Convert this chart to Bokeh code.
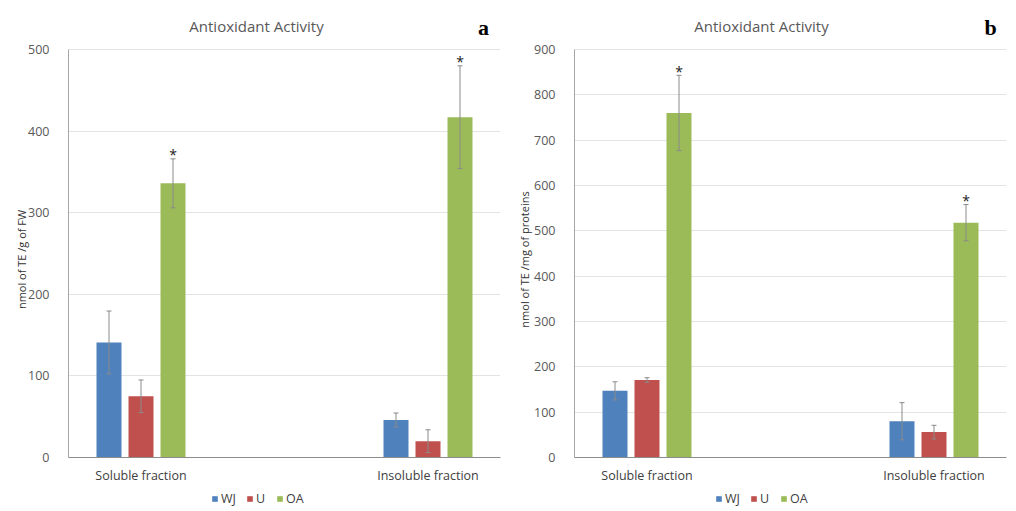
from bokeh.plotting import figure
from bokeh.models import (Range1d, FixedTicker, Whisker, TeeHead, ColumnDataSource,
                          Label, Legend, LegendItem, Grid)
from bokeh.layouts import row
from bokeh.embed import file_html
from bokeh.resources import INLINE
from bokeh.core.properties import value

# ---------------- data ----------------
categories = ["Soluble fraction", "Insoluble fraction"]
series = ["WJ", "U", "OA"]
colors = ["#4F81BD", "#C0504D", "#9BBB59"]

# panel a: nmol of TE / g of FW
a_wj = [141, 46]
a_wj_err = [38.5, 8.5]
a_u = [75, 20]
a_u_err = [20, 14]
a_oa = [336, 417]
a_oa_err = [30, 63]

# panel b: nmol of TE / mg of proteins
b_wj = [147, 80]
b_wj_err = [20, 41]
b_u = [171, 56]
b_u_err = [5, 15]
b_oa = [760, 518]
b_oa_err = [83, 40]

a_ticks = [0, 100, 200, 300, 400, 500]
b_ticks = [0, 100, 200, 300, 400, 500, 600, 700, 800, 900]

FONT = "Open Sans"
FRAME_W = 432
AXIS_H = 408          # pixel height of the value axis
TOP_PAD = 39          # frame space above the axis top (title area)
BOTTOM_PAD = 51       # frame space below zero (category labels + legend)
GROUP_PX = 287.0
BAR_STEP = 32.0 / GROUP_PX
BAR_W = 25.0 / GROUP_PX
PAD = 72.5 / GROUP_PX


def make_panel(vals, errs, ticks, ymax, ylabel, letter, border_left, border_right,
               title_dx, letter_dx, label_standoff, legend_dx):
    n = len(categories)
    x0 = 1 - PAD
    x1 = n + PAD
    ypx = ymax / AXIS_H
    xpx = (x1 - x0) / FRAME_W
    p = figure(width=border_left + FRAME_W + border_right, height=510,
               x_range=Range1d(x0, x1),
               y_range=Range1d(-BOTTOM_PAD * ypx, ymax + TOP_PAD * ypx),
               output_backend="svg", toolbar_location=None,
               min_border_left=border_left, min_border_right=border_right,
               min_border_top=10, min_border_bottom=2)
    p.outline_line_color = None
    p.background_fill_color = "white"
    p.xaxis.visible = False

    # grid lines, and the category axis line at zero
    p.xgrid.grid_line_color = None
    p.ygrid.grid_line_color = "#e3e3e3"
    p.ygrid.ticker = FixedTicker(ticks=[t for t in ticks if t > 0])
    base = Grid(dimension=1, ticker=FixedTicker(ticks=[0]), grid_line_color="#8c8c8c",
                level="overlay")
    p.add_layout(base)

    renderers = []
    for k, (v, e) in enumerate(zip(vals, errs)):
        xs = [i + 1 + (k - 1) * BAR_STEP for i in range(n)]
        src = ColumnDataSource(dict(x=xs, top=v, up=[a + b for a, b in zip(v, e)],
                                    lo=[a - b for a, b in zip(v, e)]))
        r = p.vbar(x="x", top="top", width=BAR_W, bottom=0, source=src,
                   fill_color=colors[k], line_color=None)
        renderers.append(r)
        w = Whisker(base="x", upper="up", lower="lo", source=src,
                    line_color="#8a8a8a", line_width=1,
                    upper_head=TeeHead(size=5, line_color="#8a8a8a", line_width=1),
                    lower_head=TeeHead(size=5, line_color="#8a8a8a", line_width=1),
                    level="overlay")
        p.add_layout(w)
        if k == 2:
            p.text(x="x", y="up", text=value("*"), source=src, text_align="center",
                   text_baseline="alphabetic", y_offset=-4,
                   text_font=value(FONT), text_font_size="14px", text_color="#222222")

    # category labels under the bars
    csrc = ColumnDataSource(dict(x=[i + 1 for i in range(n)], y=[0] * n, t=categories))
    p.text(x="x", y="y", text="t", source=csrc, text_align="center",
           text_baseline="middle", y_offset=18,
           text_font=value(FONT), text_font_size="12.5px", text_color="#404040")

    # value axis
    p.yaxis.ticker = FixedTicker(ticks=ticks)
    p.yaxis.bounds = (0, ymax)
    p.yaxis.major_tick_line_color = None
    p.yaxis.minor_tick_line_color = None
    p.yaxis.axis_line_color = "#a6a6a6"
    p.yaxis.major_label_standoff = 13
    p.yaxis.major_label_text_font = FONT
    p.yaxis.major_label_text_font_size = "12.5px"
    p.yaxis.major_label_text_color = "#595959"
    p.yaxis.axis_label = ylabel
    p.yaxis.axis_label_standoff = label_standoff
    p.yaxis.axis_label_text_font = FONT
    p.yaxis.axis_label_text_font_size = "11px"
    p.yaxis.axis_label_text_font_style = "normal"
    p.yaxis.axis_label_text_color = "#333333"

    # title and panel letter (inside the frame, above the value axis)
    p.add_layout(Label(x=x0 + title_dx * xpx, y=ymax + 24 * ypx, text="Antioxidant Activity",
                       text_align="center", text_baseline="middle",
                       text_font=FONT, text_font_size="15px", text_color="#595959"))
    p.add_layout(Label(x=x0 + letter_dx * xpx, y=ymax + 22 * ypx, text=letter,
                       text_align="center", text_baseline="middle",
                       text_font="Liberation Serif", text_font_size="22px",
                       text_font_style="bold", text_color="black"))

    legend = Legend(items=[LegendItem(label=s, renderers=[r]) for s, r in zip(series, renderers)],
                    orientation="horizontal", location=(legend_dx, 1),
                    glyph_width=7, glyph_height=7, label_height=12, label_width=10,
                    label_standoff=3, spacing=10, padding=0, margin=0,
                    border_line_color=None, background_fill_alpha=0,
                    label_text_font=FONT, label_text_font_size="12.5px",
                    label_text_color="#404040")
    p.add_layout(legend, "center")
    return p


pa = make_panel([a_wj, a_u, a_oa], [a_wj_err, a_u_err, a_oa_err], a_ticks, 500,
                "nmol of TE /g of FW", "a", 68, 8, 188, 415, -4, 143)
pb = make_panel([b_wj, b_u, b_oa], [b_wj_err, b_u_err, b_oa_err], b_ticks, 900,
                "nmol of TE /mg of proteins", "b", 66, 10, 187, 416, -1, 141)

layout = row(pa, pb, spacing=0)
open("out.html", "w").write(file_html(layout, INLINE))
